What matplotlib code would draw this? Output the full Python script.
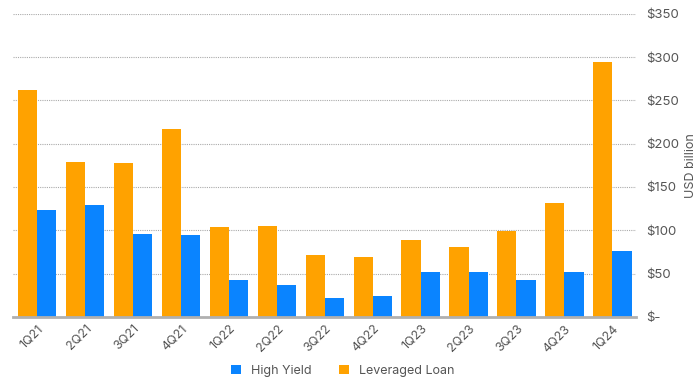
import matplotlib.pyplot as plt
import numpy as np

quarters = ['1Q21', '2Q21', '3Q21', '4Q21', '1Q22', '2Q22', '3Q22',
            '4Q22', '1Q23', '2Q23', '3Q23', '4Q23', '1Q24']
leveraged_loan = [262, 179, 178, 217, 104, 105, 71, 69, 89, 81, 99, 131, 294]
high_yield = [123, 129, 96, 95, 42, 37, 22, 24, 52, 52, 42, 52, 76]
y_ticks = [0, 50, 100, 150, 200, 250, 300, 350]
y_labels = ['$-', '$50', '$100', '$150', '$200', '$250', '$300', '$350']

plt.rcParams['font.family'] = ['Inter', 'DejaVu Sans']
text_col = '#555555'

fig = plt.figure(figsize=(7, 3.85), dpi=100)
ax = fig.add_axes([0.019, 0.177, 0.89, 0.787])

x = np.arange(len(quarters))
w = 0.4
ax.bar(x - w / 2, leveraged_loan, w, color='#FFA200', label='Leveraged Loan', zorder=3)
ax.bar(x + w / 2, high_yield, w, color='#0A84FF', label='High Yield', zorder=3)

ax.set_xlim(-0.5, len(quarters) - 0.5)
ax.set_ylim(0, 350)
ax.set_xticks(x)
ax.set_xticklabels(quarters, rotation=45, ha='right', rotation_mode='anchor',
                   color=text_col, fontsize=9)
ax.yaxis.tick_right()
ax.yaxis.set_label_position('right')
ax.set_yticks(y_ticks)
ax.set_yticklabels(y_labels, color=text_col, fontsize=9.5)
ax.tick_params(axis='both', length=0)
ax.tick_params(axis='y', pad=7)
ax.tick_params(axis='x', pad=4)
ax.set_ylabel('USD billion', color=text_col, fontsize=9, labelpad=4)

# dotted horizontal gridlines, light grey
ax.grid(axis='y', linestyle=(0, (1, 1)), color='#aaaaaa', linewidth=0.8, zorder=0)
for s in ['top', 'left', 'right']:
    ax.spines[s].set_visible(False)
ax.spines['bottom'].set_color('#b0b0b0')
ax.spines['bottom'].set_linewidth(2)
ax.spines['bottom'].set_zorder(4)

handles, labels = ax.get_legend_handles_labels()
fig.legend(handles[::-1], labels[::-1], loc='lower center', ncol=2,
           bbox_to_anchor=(0.49, -0.008), frameon=False, fontsize=9,
           handlelength=0.8, handleheight=0.8, columnspacing=2.2,
           handletextpad=0.8, labelcolor=text_col)

fig.savefig('out.png', dpi=100)
